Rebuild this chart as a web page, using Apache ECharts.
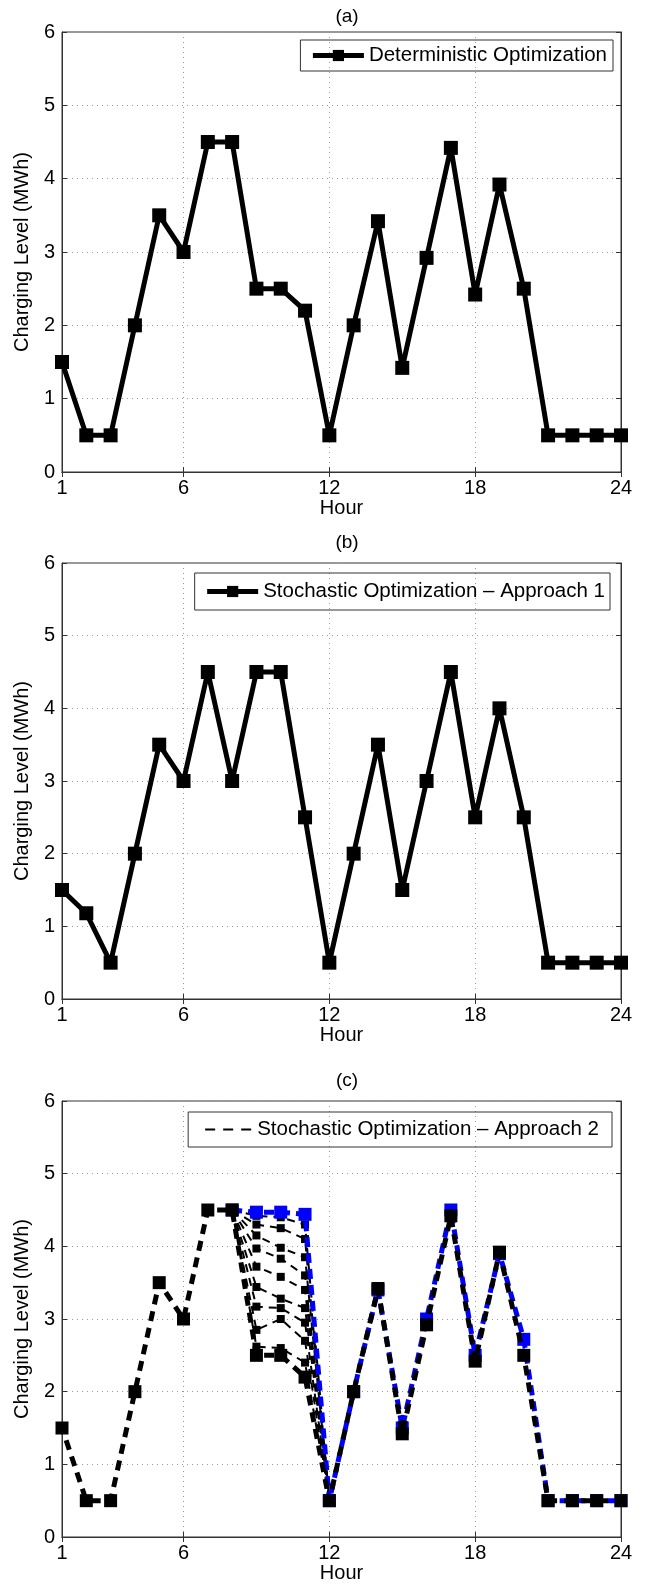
<!DOCTYPE html>
<html>
<head>
<meta charset="utf-8">
<script src="https://cdn.jsdelivr.net/npm/echarts@6/dist/echarts.min.js"></script>
<style>
  html, body { margin: 0; padding: 0; background: #fff; }
  #chart { width: 657px; height: 1589px; }
</style>
</head>
<body>
<div id="chart"></div>
<script>
// hours on the x axis
const hours = [1, 2, 3, 4, 5, 6, 7, 8, 9, 10, 11, 12, 13, 14, 15, 16, 17, 18, 19, 20, 21, 22, 23, 24]
const shownHours = [1, 6, 12, 18, 24]

// (a) deterministic
const deterministic = [1.5, 0.5, 0.5, 2.0, 3.5, 3.0, 4.5, 4.5, 2.5, 2.5, 2.2, 0.5, 2.0, 3.42, 1.42, 2.92, 4.42, 2.42, 3.92, 2.5, 0.5, 0.5, 0.5, 0.5]
// (b) stochastic, approach 1
const approach1 = [1.5, 1.18, 0.5, 2.0, 3.5, 3.0, 4.5, 3.0, 4.5, 4.5, 2.5, 0.5, 2.0, 3.5, 1.5, 3.0, 4.5, 2.5, 4.0, 2.5, 0.5, 0.5, 0.5, 0.5]
// (c) stochastic, approach 2
const approach2Main = [1.5, 0.5, 0.5, 2.0, 3.5, 3.0, 4.5, 4.5, 2.5, 2.5, 2.2, 0.5, 2.0, 3.42, 1.42, 2.92, 4.42, 2.42, 3.92, 2.5, 0.5, 0.5, 0.5, 0.5]
const approach2Blue = [null, null, null, null, null, null, null, 4.5, 4.47, 4.47, 4.44, 0.5, 2.0, 3.4, 1.5, 3.0, 4.5, 2.5, 3.9, 2.72, 0.5, 0.5, 0.5, 0.5]
// scenario paths between hour 8 and hour 12
const scenarios = [
  [null, null, null, null, null, null, null, 4.5, 4.42, 4.40, 4.30, 0.5, null, null, null, null, null, null, null, null, null, null, null, null],
  [null, null, null, null, null, null, null, 4.5, 4.30, 4.25, 4.10, 0.5, null, null, null, null, null, null, null, null, null, null, null, null],
  [null, null, null, null, null, null, null, 4.5, 4.15, 3.98, 3.85, 0.5, null, null, null, null, null, null, null, null, null, null, null, null],
  [null, null, null, null, null, null, null, 4.5, 3.97, 3.83, 3.60, 0.5, null, null, null, null, null, null, null, null, null, null, null, null],
  [null, null, null, null, null, null, null, 4.5, 3.72, 3.58, 3.40, 0.5, null, null, null, null, null, null, null, null, null, null, null, null],
  [null, null, null, null, null, null, null, 4.5, 3.44, 3.28, 3.15, 0.5, null, null, null, null, null, null, null, null, null, null, null, null],
  [null, null, null, null, null, null, null, 4.5, 3.17, 3.15, 2.95, 0.5, null, null, null, null, null, null, null, null, null, null, null, null],
  [null, null, null, null, null, null, null, 4.5, 2.85, 3.00, 2.70, 0.5, null, null, null, null, null, null, null, null, null, null, null, null],
  [null, null, null, null, null, null, null, 4.5, 2.62, 2.60, 2.40, 0.5, null, null, null, null, null, null, null, null, null, null, null, null]
]

const yTicks = [0, 1, 2, 3, 4, 5, 6]

const font = "'Liberation Sans', Arial, Helvetica, sans-serif"
const grids = [
  { left: 62, width: 559, top: 32, height: 440 },
  { left: 62, width: 559, top: 563, height: 436 },
  { left: 62, width: 559, top: 1101, height: 436 }
]
const titles = ['(a)', '(b)', '(c)']
const titleTops = [2, 528, 1066]

function isShown(v) {
  return shownHours.indexOf(Number(v)) >= 0
}

const tickStyle = { inside: true, length: 5, lineStyle: { color: '#333' } }

// bottom/left axes carry labels; top/right copies only carry the inner ticks
const xBottom = grids.map((g, i) => ({
  type: 'category',
  gridIndex: i,
  data: hours,
  boundaryGap: false,
  name: 'Hour',
  nameLocation: 'middle',
  nameGap: 25,
  nameTextStyle: { fontSize: 20, color: '#000', fontFamily: font },
  axisLine: { lineStyle: { color: '#333', width: 1 } },
  axisTick: Object.assign({ interval: (idx, v) => isShown(v) }, tickStyle),
  axisLabel: { interval: (idx, v) => isShown(v), fontSize: 20, color: '#000', margin: 6, fontFamily: font },
  splitLine: {
    show: true,
    interval: (idx, v) => isShown(v),
    lineStyle: { color: '#999', type: [1, 4], width: 1 }
  }
}))
const xTop = grids.map((g, i) => ({
  type: 'category',
  gridIndex: i,
  position: 'top',
  data: hours,
  boundaryGap: false,
  axisLine: { lineStyle: { color: '#333', width: 1 } },
  axisTick: Object.assign({ interval: (idx, v) => isShown(v) }, tickStyle),
  axisLabel: { show: false },
  splitLine: { show: false }
}))
const yLeft = grids.map((g, i) => ({
  type: 'value',
  gridIndex: i,
  min: yTicks[0],
  max: yTicks[yTicks.length - 1],
  interval: 1,
  name: 'Charging Level (MWh)',
  nameLocation: 'middle',
  nameGap: 19,
  nameTextStyle: { fontSize: 20, color: '#000', fontFamily: font },
  axisLine: { show: true, lineStyle: { color: '#333', width: 1 } },
  axisTick: Object.assign({ show: true }, tickStyle),
  axisLabel: { fontSize: 20, color: '#000', margin: 7, fontFamily: font },
  splitLine: { show: true, lineStyle: { color: '#999', type: [1, 4], width: 1 } }
}))
const yRight = grids.map((g, i) => ({
  type: 'value',
  gridIndex: i,
  position: 'right',
  min: yTicks[0],
  max: yTicks[yTicks.length - 1],
  interval: 1,
  axisLine: { show: true, lineStyle: { color: '#333', width: 1 } },
  axisTick: Object.assign({ show: true }, tickStyle),
  axisLabel: { show: false },
  splitLine: { show: false }
}))

const option = {
  backgroundColor: '#fff',
  animation: false,
  textStyle: { fontFamily: font },
  title: titles.map((t, i) => ({
    text: t,
    left: 342,
    textAlign: 'center',
    top: titleTops[i],
    textStyle: { fontSize: 19, fontWeight: 'normal', color: '#000', fontFamily: font }
  })),
  grid: grids.map(g => ({
    left: g.left, width: g.width, top: g.top, height: g.height,
    show: true, borderColor: '#333', borderWidth: 1, backgroundColor: '#fff'
  })),
  xAxis: xBottom.concat(xTop),
  yAxis: yLeft.concat(yRight),
  legend: [
    {
      data: ['Deterministic Optimization'],
      right: 44, top: 40,
      borderColor: '#333', borderWidth: 1, padding: [5, 6, 5, 10],
      itemWidth: 51, itemHeight: 14, itemGap: 6,
      lineStyle: { width: 5 },
      textStyle: { fontSize: 20.5, color: '#000', fontFamily: font }
    },
    {
      data: ['Stochastic Optimization \u2013 Approach 1'],
      right: 47, top: 573,
      borderColor: '#333', borderWidth: 1, padding: [8, 5, 8, 10],
      itemWidth: 51, itemHeight: 14, itemGap: 7,
      lineStyle: { width: 5 },
      textStyle: { fontSize: 20.5, color: '#000', fontFamily: font }
    },
    {
      data: ['Stochastic Optimization \u2013 Approach 2'],
      right: 45, top: 1112,
      borderColor: '#333', borderWidth: 1, padding: [7, 13, 7, 16],
      itemWidth: 47, itemHeight: 14, itemGap: 23,
      textStyle: { fontSize: 20.5, color: '#000', fontFamily: font }
    }
  ],
  series: []
}

function solidSeries(name, data, idx) {
  return {
    name: name,
    type: 'line',
    xAxisIndex: idx,
    yAxisIndex: idx,
    data: data,
    symbol: 'rect',
    symbolSize: 14,
    itemStyle: { color: '#000' },
    lineStyle: { color: '#000', width: 5 },
    z: 3
  }
}

option.series.push(solidSeries('Deterministic Optimization', deterministic, 0))
option.series.push(solidSeries('Stochastic Optimization \u2013 Approach 1', approach1, 1))

// (c) scenario lines
scenarios.forEach((s, k) => {
  option.series.push({
    name: 'scenario ' + (k + 1),
    type: 'line',
    xAxisIndex: 2,
    yAxisIndex: 2,
    data: s,
    symbol: 'rect',
    symbolSize: 8,
    itemStyle: { color: '#000' },
    lineStyle: { color: '#000', width: 2, type: [8, 6] },
    z: 2
  })
})

option.series.push({
  name: 'blue path',
  type: 'line',
  xAxisIndex: 2,
  yAxisIndex: 2,
  data: approach2Blue,
  symbol: 'rect',
  symbolSize: 13,
  itemStyle: { color: '#0000ff' },
  lineStyle: { color: '#0000ff', width: 5, type: [10, 6] },
  z: 3
})

option.series.push({
  name: 'main path',
  type: 'line',
  xAxisIndex: 2,
  yAxisIndex: 2,
  data: approach2Main,
  symbol: 'rect',
  symbolSize: 13,
  itemStyle: { color: '#000' },
  lineStyle: { color: '#000', width: 5, type: [10, 7], dashOffset: 4 },
  z: 4
})

// legend entry only
option.series.push({
  name: 'Stochastic Optimization \u2013 Approach 2',
  type: 'line',
  xAxisIndex: 2,
  yAxisIndex: 2,
  data: [],
  symbol: 'rect',
  itemStyle: { color: 'rgba(0,0,0,0)' },
  lineStyle: { color: '#000', width: 2, type: [10, 8] }
})

const chart = echarts.init(document.getElementById('chart'))
chart.setOption(option)
</script>
</body>
</html>
